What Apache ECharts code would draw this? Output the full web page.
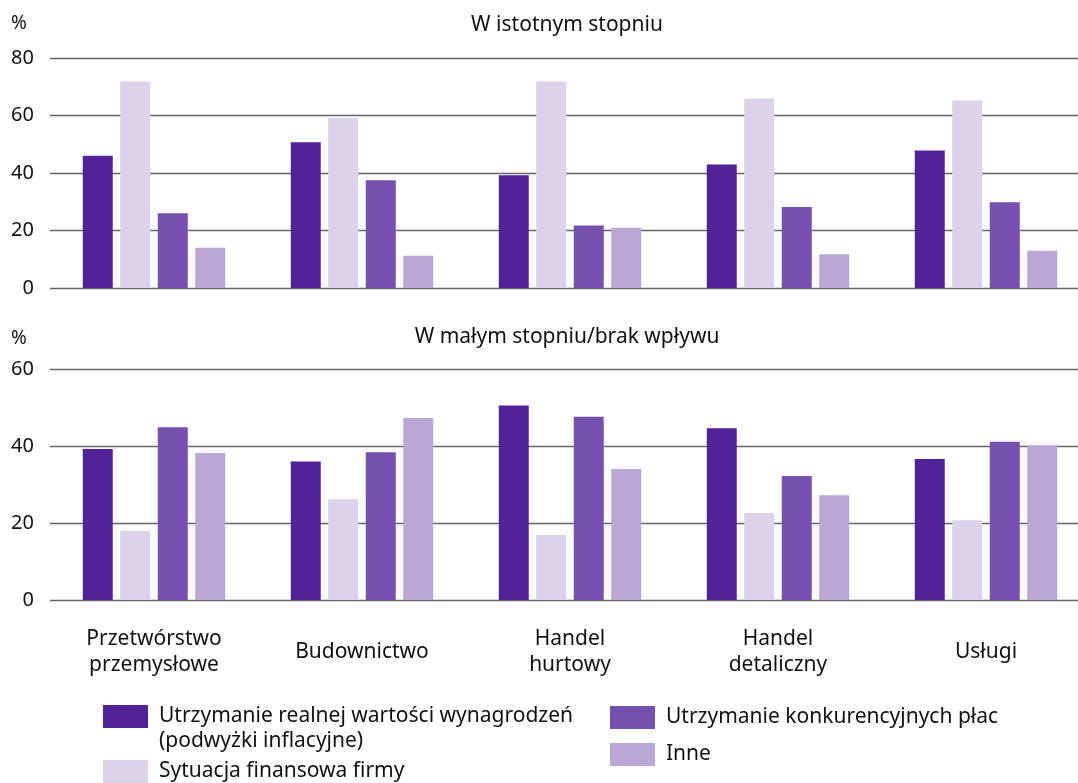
<!DOCTYPE html>
<html>
<head>
<meta charset="utf-8">
<script src="https://cdn.jsdelivr.net/npm/echarts@6/dist/echarts.min.js"></script>
<style>html,body{margin:0;padding:0;background:#fff}#c{width:1078px;height:783px}</style>
</head>
<body>
<div id="c"></div>
<script>
const categories = ['Przetwórstwo\nprzemysłowe', 'Budownictwo', 'Handel\nhurtowy', 'Handel\ndetaliczny', 'Usługi'];
const seriesNames = [
  'Utrzymanie realnej wartości wynagrodzeń\n(podwyżki inflacyjne)',
  'Sytuacja finansowa firmy',
  'Utrzymanie konkurencyjnych płac',
  'Inne'
];
const panelTitles = ['W istotnym stopniu', 'W małym stopniu/brak wpływu'];
// Top panel: W istotnym stopniu
const topReal = [46, 50.7, 39.2, 43.0, 47.8];
const topFin = [71.8, 59.1, 71.8, 65.9, 65.2];
const topComp = [26.0, 37.5, 21.7, 28.2, 29.8];
const topOther = [14.0, 11.2, 21.0, 11.7, 13.0];
// Bottom panel: W małym stopniu/brak wpływu
const botReal = [39.2, 36.0, 50.5, 44.6, 36.6];
const botFin = [17.9, 26.2, 16.9, 22.6, 20.7];
const botComp = [44.9, 38.4, 47.6, 32.2, 41.1];
const botOther = [38.2, 47.3, 34.0, 27.2, 40.2];
const topTicks = {min: 0, max: 80, interval: 20};
const botTicks = {min: 0, max: 60, interval: 20};

const colors = ['#522398', '#dcd3ea', '#7551ad', '#baa7d5'];
const FONT = 'Noto Sans';
const gridLine = {show: true, lineStyle: {color: '#666666', width: 1.4}};

function yAxis(idx, t) {
  return {
    type: 'value', gridIndex: idx, min: t.min, max: t.max, interval: t.interval,
    axisLine: {show: false}, axisTick: {show: false}, splitLine: gridLine,
    axisLabel: {fontFamily: FONT, fontSize: 20, color: '#111', margin: 16}
  };
}
function xAxis(idx, showLabels) {
  return {
    type: 'category', gridIndex: idx, data: categories,
    axisLine: {show: false}, axisTick: {show: false},
    axisLabel: {show: showLabels, fontFamily: FONT, fontSize: 21, color: '#111',
      lineHeight: 26, verticalAlign: 'middle', margin: 52, interval: 0}
  };
}
function bar(name, data, color, idx) {
  return {
    type: 'bar', name: name, data: data, xAxisIndex: idx, yAxisIndex: idx,
    barWidth: 30, barGap: '25%', itemStyle: {color: color},
    emphasis: {disabled: true}
  };
}
function legend(name, left, top, leadBlank) {
  return {
    data: [name], orient: 'vertical', left: left, top: top, padding: 0,
    itemWidth: 45, itemHeight: 23, icon: 'rect', selectedMode: false,
    formatter: leadBlank ? function (n) { return ' \n' + n; } : '{name}',
    textStyle: {fontFamily: FONT, fontSize: 21, color: '#111', lineHeight: 25,
      padding: [0, 0, 0, 6]}
  };
}

const chart = echarts.init(document.getElementById('c'), null, {renderer: 'canvas'});
chart.setOption({
  animation: false,
  color: colors,
  title: [
    {text: panelTitles[0], left: 567, top: 13, textAlign: 'center', padding: 0,
      textStyle: {fontFamily: FONT, fontSize: 21, fontWeight: 'normal', color: '#111', lineHeight: 24}},
    {text: panelTitles[1], left: 567, top: 325, textAlign: 'center', padding: 0,
      textStyle: {fontFamily: FONT, fontSize: 21, fontWeight: 'normal', color: '#111', lineHeight: 24}},
    {text: '%', left: 11, top: 12, padding: 0,
      textStyle: {fontFamily: FONT, fontSize: 19, fontWeight: 'normal', color: '#111', lineHeight: 24}},
    {text: '%', left: 11, top: 327, padding: 0,
      textStyle: {fontFamily: FONT, fontSize: 19, fontWeight: 'normal', color: '#111', lineHeight: 24}}
  ],
  grid: [
    {left: 50, top: 58, width: 1040, height: 230, outerBoundsMode: 'none', containLabel: false},
    {left: 50, top: 369, width: 1040, height: 231, outerBoundsMode: 'none', containLabel: false}
  ],
  xAxis: [xAxis(0, false), xAxis(1, true)],
  yAxis: [yAxis(0, topTicks), yAxis(1, botTicks)],
  legend: [
    legend(seriesNames[0], 103, 679, true),
    legend(seriesNames[1], 103, 759, false),
    legend(seriesNames[2], 610, 705, false),
    legend(seriesNames[3], 610, 742, false)
  ],
  series: [
    bar(seriesNames[0], topReal, colors[0], 0),
    bar(seriesNames[1], topFin, colors[1], 0),
    bar(seriesNames[2], topComp, colors[2], 0),
    bar(seriesNames[3], topOther, colors[3], 0),
    bar(seriesNames[0], botReal, colors[0], 1),
    bar(seriesNames[1], botFin, colors[1], 1),
    bar(seriesNames[2], botComp, colors[2], 1),
    bar(seriesNames[3], botOther, colors[3], 1)
  ]
});
</script>
</body>
</html>
